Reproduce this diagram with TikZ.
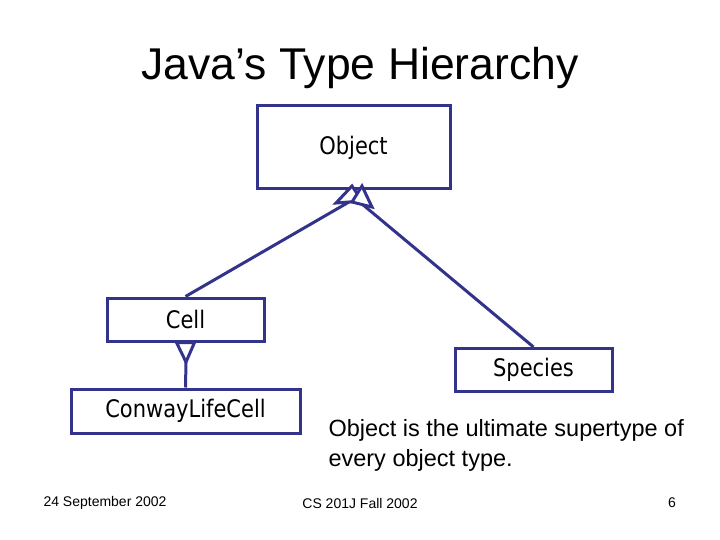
\documentclass[tikz,border=0pt]{standalone}
\usepackage{fontspec}
\setmainfont{Liberation Sans}
\newfontfamily\boxfont{DejaVu Sans}
\definecolor{nv}{RGB}{51,51,140}
\begin{document}
\begin{tikzpicture}[x=1pt,y=-1pt,
  cls/.style={draw=nv,line width=3pt,inner sep=0pt,font=\boxfont\fontsize{21}{24}\selectfont},
  ln/.style={draw=nv,line width=3pt},
  tri/.style={draw=nv,line width=3pt,fill=white,line join=miter}]
\useasboundingbox (0,0) rectangle (720,540);
\node[font=\fontsize{44.5}{50}\selectfont] (title) at (360,68) {Java’s Type Hierarchy};
\node[cls,minimum width=193pt,minimum height=83pt] (obj) at (353.5,147.5) {\scalebox{1}[1.15]{Object}};
\node[cls,minimum width=157pt,minimum height=43pt] (cell) at (185.5,319.5) {\scalebox{1}[1.15]{Cell}};
\node[cls,minimum width=157pt,minimum height=43pt,anchor=north] (spec) at (533.5,347) {\scalebox{1}[1.15]{Species}};
\node[cls,minimum width=229pt,minimum height=44pt] (clc) at (185.5,411) {\scalebox{1}[1.15]{ConwayLifeCell}};
\coordinate (t1) at (352,186); \coordinate (t2) at (362,186);
\coordinate (b1) at (349,202); \coordinate (b2) at (362,204);
\draw[ln] (b1) -- (cell.north);
\draw[ln] (b2) -- (spec.north);
\draw[tri] (t1) -- (336,203) -- (362,201) -- cycle;
\draw[tri] (t2) -- (352,202) -- (372,207) -- cycle;
\coordinate (ct) at (186,362);
\draw[ln] (ct) -- (clc.north);
\draw[tri] (cell.south) ++(-9,0) -- (ct) -- ([xshift=9pt]cell.south) -- cycle;
\node[align=left,anchor=north west,font=\fontsize{23.5}{30}\selectfont] (note) at (325,416) {Object is the ultimate supertype of\\every object type.};
\node[font=\fontsize{14}{16}\selectfont] (f1) at (105,503) {24 September 2002};
\node[font=\fontsize{14}{16}\selectfont] (f2) at (360,503) {CS 201J Fall 2002};
\node[font=\fontsize{14}{16}\selectfont] (f3) at (672,503) {6};
\end{tikzpicture}
\end{document}
